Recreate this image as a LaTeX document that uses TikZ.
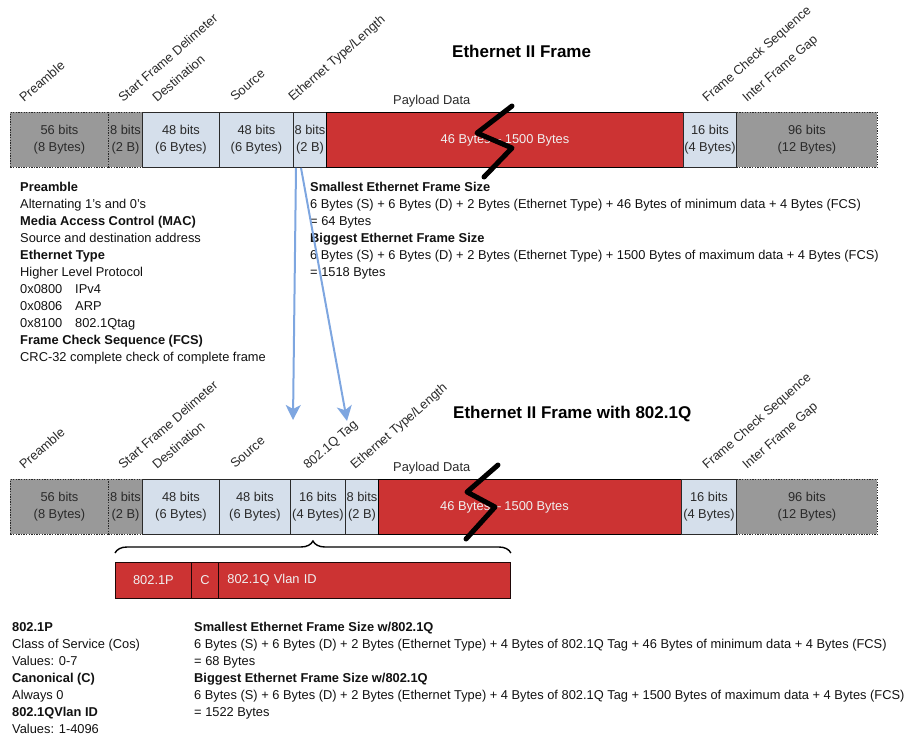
\documentclass[tikz,border=0pt]{standalone}
\usepackage{fontspec}
\setmainfont{Liberation Sans}
\usetikzlibrary{arrows.meta,decorations.pathreplacing,calc}
\definecolor{fieldgray}{HTML}{999999}
\definecolor{fieldblue}{HTML}{D5DFEB}
\definecolor{fieldred}{HTML}{CC3333}
\definecolor{linkblue}{HTML}{7EA6E0}
\definecolor{ink}{HTML}{111111}
\definecolor{boxink}{HTML}{2A2A2A}
\newcommand\hexcode[1]{\makebox[55pt][l]{#1}}
\begin{document}
\begin{tikzpicture}[x=1pt,y=-1pt,
  every node/.style={inner sep=0pt, font=\fontsize{12.85}{17}\selectfont, text=ink},
  field/.style={anchor=north west, minimum height=55pt, align=center, text=boxink,
    line width=0.9pt},
  grayfield/.style={field, fill=fieldgray, draw=boxink, dash pattern=on 1.3pt off 1.3pt},
  bluefield/.style={field, fill=fieldblue, draw=boxink},
  redfield/.style={field, fill=fieldred, draw=black, text=white!94!black},
  vlanfield/.style={anchor=north west, minimum height=36pt, fill=fieldred, draw=black!85!fieldred,
    line width=0.9pt, text=white!94!black},
  slanted/.style={rotate=41, anchor=base west, text=boxink},
  title/.style={anchor=base west, font=\fontsize{17}{20}\selectfont\bfseries, text=black},
  breakmark/.style={line width=5pt, line cap=round, line join=round, black},
  linkarrow/.style={draw=linkblue, line width=2pt,
    -{Stealth[length=15pt, width=15pt, inset=4pt]}},
  textline/.style={anchor=base west}
]
\useasboundingbox (0,0) rectangle (905,736);

% ---------------- Ethernet II frame ----------------
\node[title] (title1) at (452,57) {Ethernet II Frame};

\node[grayfield, minimum width=98pt] (pre1) at (10,112) {56 bits\\(8 Bytes)};
\node[grayfield, minimum width=34pt] (sfd1) at (108,112) {8 bits\\(2 B)};
\node[grayfield, minimum width=141pt] (ifg1) at (736,112) {96 bits\\(12 Bytes)};
\node[bluefield, minimum width=77pt] (dst1) at (142,112) {48 bits\\(6 Bytes)};
\node[bluefield, minimum width=74pt] (src1) at (219,112) {48 bits\\(6 Bytes)};
\node[bluefield, minimum width=33pt] (typ1) at (293,112) {8 bits\\(2 B)};
\node[redfield, minimum width=357pt] (pay1) at (326,112) {46 Bytes – 1500 Bytes};
\node[bluefield, minimum width=53pt] (fcs1) at (683,112) {16 bits\\(4 Bytes)};

\node[slanted] (l1pre) at (24,103) {Preamble};
\node[slanted] (l1sfd) at (123,103) {Start Frame Delimeter};
\node[slanted] (l1dst) at (157,103) {Destination};
\node[slanted] (l1src) at (235,102) {Source};
\node[slanted] (l1typ) at (293,102) {Ethernet Type/Length};
\node[slanted] (l1fcs) at (707,103) {Frame Check Sequence};
\node[slanted] (l1ifg) at (747,103) {Inter Frame Gap};
\node[textline, text=boxink] (l1pay) at (393,104) {Payload Data};

\draw[breakmark] (512,106) -- (477,133) -- (512,148) -- (484,177);

% field notes
\foreach \t [count=\i] in {{\bfseries Preamble},
    Alternating 1’s and 0’s,
    {\bfseries Media Access Control (MAC)},
    Source and destination address,
    {\bfseries Ethernet Type},
    Higher Level Protocol,
    \hexcode{0x0800}IPv4,
    \hexcode{0x0806}ARP,
    \hexcode{0x8100}802.1Qtag,
    {\bfseries Frame Check Sequence (FCS)},
    CRC-32 complete check of complete frame}
  \node[textline] (notes\i) at (20,{191.5+17*(\i-1)}) {\t};

\foreach \t [count=\i] in {{\bfseries Smallest Ethernet Frame Size},
    6 Bytes (S) + 6 Bytes (D) + 2 Bytes (Ethernet Type) + 46 Bytes of minimum data + 4 Bytes (FCS),
    = 64 Bytes,
    {\bfseries Biggest Ethernet Frame Size},
    6 Bytes (S) + 6 Bytes (D) + 2 Bytes (Ethernet Type) + 1500 Bytes of maximum data + 4 Bytes (FCS),
    = 1518 Bytes}
  \node[textline] (size\i) at (310,{191.5+17*(\i-1)}) {\t};

% ---------------- Ethernet II frame with 802.1Q ----------------
\node[title] (title2) at (453,418) {Ethernet II Frame with 802.1Q};

\node[grayfield, minimum width=98pt] (pre2) at (10,479) {56 bits\\(8 Bytes)};
\node[grayfield, minimum width=34pt] (sfd2) at (108,479) {8 bits\\(2 B)};
\node[grayfield, minimum width=141pt] (ifg2) at (736,479) {96 bits\\(12 Bytes)};
\node[bluefield, minimum width=77pt] (dst2) at (142,479) {48 bits\\(6 Bytes)};
\node[bluefield, minimum width=71pt] (src2) at (219,479) {48 bits\\(6 Bytes)};
\node[bluefield, minimum width=55pt] (tag2) at (290,479) {16 bits\\(4 Bytes)};
\node[bluefield, minimum width=33pt] (typ2) at (345,479) {8 bits\\(2 B)};
\node[redfield, minimum width=303pt] (pay2) at (378,479) {};
\node[bluefield, minimum width=55pt] (fcs2) at (681,479) {16 bits\\(4 Bytes)};
\node[text=white!94!black] (pay2text) at (504.5,507) {46 Bytes – 1500 Bytes};

\node[slanted] (l2pre) at (24,470) {Preamble};
\node[slanted] (l2sfd) at (123,470) {Start Frame Delimeter};
\node[slanted] (l2dst) at (157,470) {Destination};
\node[slanted] (l2src) at (235,469) {Source};
\node[slanted] (l2tag) at (308,470) {802.1Q Tag};
\node[slanted] (l2typ) at (355,470) {Ethernet Type/Length};
\node[slanted] (l2fcs) at (707,470) {Frame Check Sequence};
\node[slanted] (l2ifg) at (747,470) {Inter Frame Gap};
\node[textline, text=boxink] (l2pay) at (393,471) {Payload Data};

\draw[breakmark] (498,465) -- (467,492) -- (495,507) -- (466,539);

% links from the type field to the tagged frame
\coordinate (tipA) at (293,420);
\coordinate (tipB) at (347,421);
\draw[linkarrow] ([xshift=3pt]typ1.south west) -- (tipA);
\draw[linkarrow] ([xshift=8pt]typ1.south west) -- (tipB);

% 802.1Q tag breakdown
\node[vlanfield, minimum width=76pt] (vp) at (115,562) {802.1P};
\node[vlanfield, minimum width=27pt] (vc) at (191,562) {C};
\node[vlanfield, minimum width=292pt, inner xsep=9pt, text width=274pt, align=left] (vid) at (218,562) {802.1Q Vlan ID};
\draw[decorate, decoration={brace, amplitude=12pt}, line width=1.4pt, black]
  ([yshift=9pt]vp.north west) -- ([yshift=9pt]vid.north east);

\foreach \t [count=\i] in {{\bfseries 802.1P},
    Class of Service (Cos),
    Values: 0-7,
    {\bfseries Canonical (C)},
    Always 0,
    {\bfseries 802.1QVlan ID},
    Values: 1-4096}
  \node[textline] (tagnotes\i) at (12,{631.5+17*(\i-1)}) {\t};

\foreach \t [count=\i] in {{\bfseries Smallest Ethernet Frame Size w/802.1Q},
    6 Bytes (S) + 6 Bytes (D) + 2 Bytes (Ethernet Type) + 4 Bytes of 802.1Q Tag + 46 Bytes of minimum data + 4 Bytes (FCS),
    = 68 Bytes,
    {\bfseries Biggest Ethernet Frame Size w/802.1Q},
    6 Bytes (S) + 6 Bytes (D) + 2 Bytes (Ethernet Type) + 4 Bytes of 802.1Q Tag + 1500 Bytes of maximum data + 4 Bytes (FCS),
    = 1522 Bytes}
  \node[textline] (tagsize\i) at (194,{631.5+17*(\i-1)}) {\t};
\end{tikzpicture}
\end{document}
